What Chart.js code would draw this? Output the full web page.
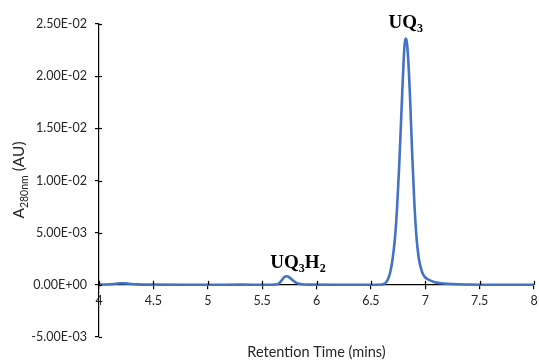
<!DOCTYPE html>
<html>
<head>
<meta charset="utf-8">
<script src="https://cdn.jsdelivr.net/npm/chart.js@4.4.1/dist/chart.umd.min.js"></script>
<style>
  html, body { margin: 0; padding: 0; background: #ffffff; }
  #wrap { width: 539px; height: 360px; position: relative; }
</style>
</head>
<body>
<div id="wrap"><canvas id="c"></canvas></div>
<script>
// ---- data ----
const retentionTime = [4.00, 4.05, 4.10, 4.15, 4.20, 4.25, 4.30, 4.35, 4.50, 4.80, 5.00, 5.30, 5.55,
  5.62, 5.65, 5.67, 5.69, 5.71, 5.73, 5.75, 5.77, 5.79, 5.81, 5.84, 5.87, 5.92,
  6.20, 6.50, 6.60, 6.62, 6.64, 6.66, 6.68, 6.70, 6.72, 6.74, 6.76, 6.78, 6.80, 6.81, 6.82, 6.83, 6.84,
  6.86, 6.88, 6.90, 6.92, 6.94, 6.96, 6.98, 7.00, 7.04, 7.08, 7.14, 7.20, 7.30, 7.40, 7.60, 8.00];
const absorbance = [0.00003, 0.00003, 0.00005, 0.00010, 0.00015, 0.00014, 0.00008, 0.00004, 0.00002, 0.00001, 0.00001, 0.00002, 0.00001,
  0.00003, 0.00010, 0.00030, 0.00058, 0.00078, 0.00082, 0.00072, 0.00054, 0.00036, 0.00022, 0.00011, 0.00005, 0.00002,
  0.00001, 0.00001, 0.00003, 0.00008, 0.00025, 0.0006, 0.0013, 0.0025, 0.0043, 0.0072, 0.0113, 0.0163, 0.0212, 0.0230, 0.0236, 0.0233, 0.0222,
  0.0180, 0.0125, 0.0078, 0.0045, 0.0026, 0.0016, 0.0010, 0.0007, 0.00045, 0.00028, 0.00016, 0.00010, 0.00005, 0.00003, 0.00001, 0.00001];

const yTickValues = [-0.005, 0, 0.005, 0.01, 0.015, 0.02, 0.025];
const yTickLabels = ['-5.00E-03', '0.00E+00', '5.00E-03', '1.00E-02', '1.50E-02', '2.00E-02', '2.50E-02'];
const xTickLabels = ['4', '4.5', '5', '5.5', '6', '6.5', '7', '7.5', '8'];

const peakLabels = [
  { main: ['U', 'Q', '3'], x: 6.82, y: 0.0236, dy: -17 },
  { main: ['U', 'Q', '3', 'H', '2'], x: 5.83, y: 0.00082, dy: -14 }
];

const points = retentionTime.map((t, i) => ({ x: t, y: absorbance[i] }));

const TEXT = '#262626';

const extras = {
  id: 'extras',
  afterDraw(chart) {
    const ctx = chart.ctx;
    const xs = chart.scales.x, ys = chart.scales.y;
    const area = chart.chartArea;
    ctx.save();
    ctx.strokeStyle = '#000';
    ctx.lineWidth = 1.2;
    // inward halves of tick marks (crossing ticks)
    const y0 = ys.getPixelForValue(0);
    for (let v = 4; v <= 8.0001; v += 0.5) {
      const px = Math.round(xs.getPixelForValue(v)) + 0.5;
      ctx.beginPath(); ctx.moveTo(px, y0 - 4); ctx.lineTo(px, y0); ctx.stroke();
    }
    const x0 = xs.getPixelForValue(4);
    yTickValues.forEach(v => {
      const py = Math.round(ys.getPixelForValue(v)) + 0.5;
      ctx.beginPath(); ctx.moveTo(x0, py); ctx.lineTo(x0 + 3, py); ctx.stroke();
    });

    // x axis title
    ctx.fillStyle = TEXT;
    ctx.font = '14.5px Lato, "Open Sans", sans-serif';
    ctx.textAlign = 'center';
    ctx.textBaseline = 'middle';
    ctx.fillText('Retention Time (mins)', (area.left + area.right) / 2, 352);

    // y axis title with subscript
    ctx.save();
    ctx.translate(19, 180);
    ctx.rotate(-Math.PI / 2);
    const bigF = '15.5px Lato, "Open Sans", sans-serif';
    const smallF = '10.5px Lato, "Open Sans", sans-serif';
    ctx.font = bigF; const wA = ctx.measureText('A').width; const wAU = ctx.measureText(' (AU)').width;
    ctx.font = smallF; const wS = ctx.measureText('280nm').width;
    let sx = -(wA + wS + wAU) / 2;
    ctx.textAlign = 'left';
    ctx.textBaseline = 'alphabetic';
    ctx.font = bigF; ctx.fillText('A', sx, 5); sx += wA;
    ctx.font = smallF; ctx.fillText('280nm', sx, 8.5); sx += wS;
    ctx.font = bigF; ctx.fillText(' (AU)', sx, 5);
    ctx.restore();

    // peak labels (Times-like bold, subscript digits)
    peakLabels.forEach(lb => {
      const cx = xs.getPixelForValue(lb.x);
      const cy = ys.getPixelForValue(lb.y) + lb.dy;
      const parts = lb.main.map(s => ({ s, sub: /\d/.test(s) }));
      let total = 0;
      parts.forEach(p => {
        ctx.font = p.sub ? 'bold 12px "Liberation Serif", serif' : 'bold 19px "Liberation Serif", serif';
        p.w = ctx.measureText(p.s).width; total += p.w;
      });
      let px = cx - total / 2;
      ctx.textAlign = 'left';
      ctx.textBaseline = 'alphabetic';
      ctx.fillStyle = '#000';
      parts.forEach(p => {
        ctx.font = p.sub ? 'bold 12px "Liberation Serif", serif' : 'bold 19px "Liberation Serif", serif';
        ctx.fillText(p.s, px, cy + (p.sub ? 10 : 6));
        px += p.w;
      });
    });
    ctx.restore();
  }
};

new Chart(document.getElementById('c'), {
  type: 'line',
  data: {
    datasets: [{
      data: points,
      borderColor: '#4472C4',
      borderWidth: 2.6,
      pointRadius: 0,
      fill: false,
      cubicInterpolationMode: 'monotone'
    }]
  },
  options: {
    responsive: true,
    maintainAspectRatio: false,
    animation: false,
    events: [],
    layout: { padding: { top: 24, bottom: 23, right: 5, left: 0 } },
    plugins: { legend: { display: false }, tooltip: { enabled: false } },
    scales: {
      x: {
        type: 'linear',
        min: 4, max: 8,
        position: { y: 0 },
        afterFit: (s) => { s.paddingRight = 0; s.paddingLeft = 0; },
        ticks: {
          stepSize: 0.5,
          color: TEXT,
          font: { family: 'Lato, "Open Sans", sans-serif', size: 12.5 },
          padding: 5,
          maxRotation: 0,
          callback: (v, i) => xTickLabels[i]
        },
        grid: { display: true, drawOnChartArea: false, drawTicks: true, tickLength: 4, color: '#000', lineWidth: 1.2 },
        border: { display: true, color: '#000', width: 1.2 }
      },
      y: {
        min: -0.005, max: 0.025,
        afterFit: (s) => { s.width = 99; },
        afterBuildTicks: (s) => { s.ticks = yTickValues.map(v => ({ value: v })); },
        ticks: {
          color: TEXT,
          font: { family: 'Lato, "Open Sans", sans-serif', size: 12.5 },
          padding: 8,
          callback: (v) => { const i = yTickValues.findIndex(t => Math.abs(t - v) < 1e-9); return yTickLabels[i]; }
        },
        grid: { display: true, drawOnChartArea: false, drawTicks: true, tickLength: 4, color: '#000', lineWidth: 1.2 },
        border: { display: true, color: '#000', width: 1.2 }
      }
    }
  },
  plugins: [extras]
});
</script>
</body>
</html>
